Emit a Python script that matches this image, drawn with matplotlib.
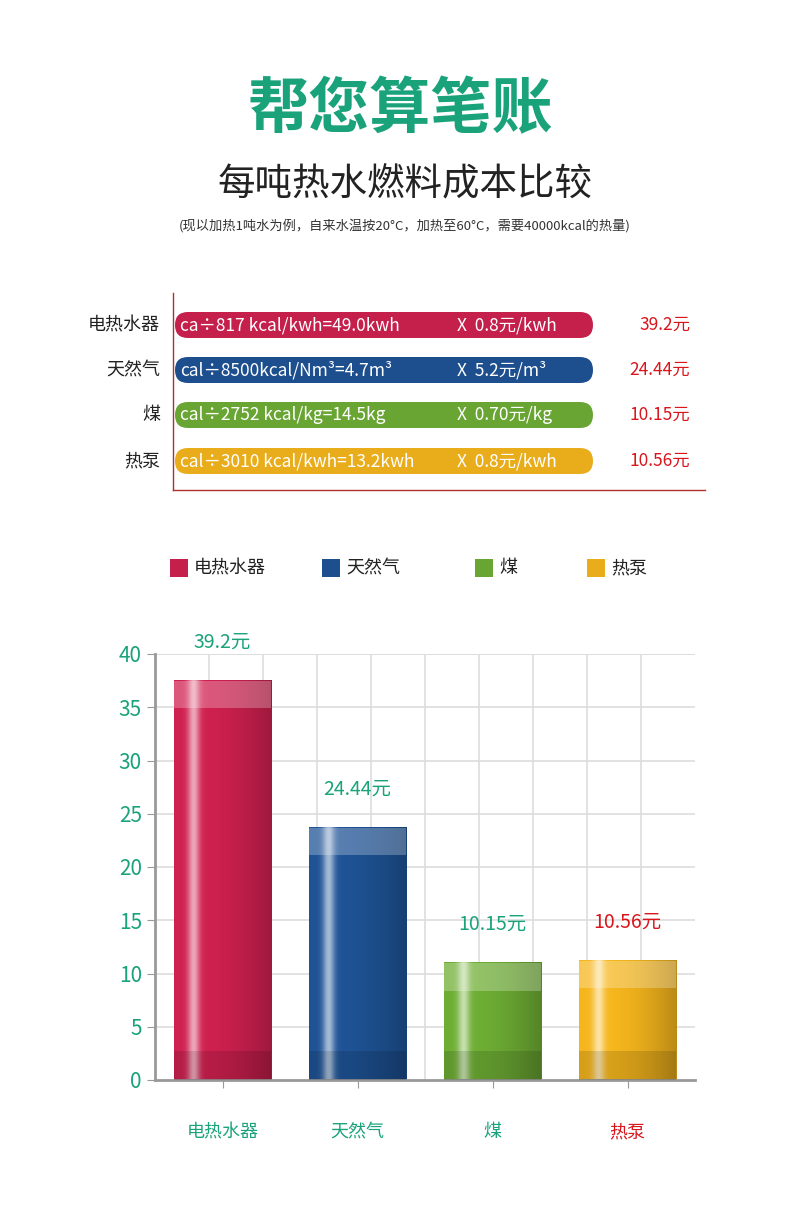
import matplotlib
matplotlib.use("Agg")
import matplotlib.pyplot as plt
import numpy as np
from matplotlib.patches import FancyBboxPatch, Rectangle
from matplotlib.colors import to_rgb

plt.rcParams["font.family"] = ["Noto Sans CJK SC", "DejaVu Sans"]

categories = ["电热水器", "天然气", "煤", "热泵"]
formulas = ["ca÷817 kcal/kwh=49.0kwh", "cal÷8500kcal/Nm³=4.7m³", "cal÷2752 kcal/kg=14.5kg", "cal÷3010 kcal/kwh=13.2kwh"]
prices = ["X  0.8元/kwh", "X  5.2元/m³", "X  0.70元/kg", "X  0.8元/kwh"]
costs = ["39.2元", "24.44元", "10.15元", "10.56元"]
bar_heights = [37.5, 23.7, 11.0, 11.2]
colors = ["#c51f4c", "#1d4f8e", "#69a532", "#e9ad1c"]
label_colors = ["#1aa37a", "#1aa37a", "#1aa37a", "#d9161c"]
yticks = [0, 5, 10, 15, 20, 25, 30, 35, 40]

W, H = 800, 1207
fig = plt.figure(figsize=(8, 12.07), dpi=100)
ov = fig.add_axes([0, 0, 1, 1])
ov.set_xlim(0, W); ov.set_ylim(H, 0); ov.axis("off")

green = "#1aa37a"
ov.text(400, 110, "帮您算笔账", color=green, fontsize=44, fontweight="bold", ha="center", va="center")
ov.text(405, 185, "每吨热水燃料成本比较", color="#222222", fontsize=27, ha="center", va="center")
ov.text(405, 226, "(现以加热1吨水为例，自来水温按20°C，加热至60°C，需要40000kcal的热量)", color="#333333", fontsize=9.5, ha="center", va="center")

# top table
ov.plot([173, 173], [293, 490], color="#b03030", lw=1)
ov.plot([173, 705], [490, 490], color="#b03030", lw=1)
rows_y = [325, 370, 415, 461]
for i, y in enumerate(rows_y):
    ov.add_patch(FancyBboxPatch((175, y - 13), 418, 26, boxstyle="round,pad=0,rounding_size=13",
                                fc=colors[i], ec="none"))
    ov.text(160, y, categories[i], ha="right", va="center", fontsize=13, color="#222222")
    ov.text(180, y, formulas[i], ha="left", va="center", fontsize=12.5, color="white")
    ov.text(457, y, prices[i], ha="left", va="center", fontsize=12.5, color="white")
    ov.text(690, y, costs[i], ha="right", va="center", fontsize=12.5, color="#d9161c")

# legend
leg_x = [170, 322, 475, 587]
for i, x in enumerate(leg_x):
    ov.add_patch(Rectangle((x, 559), 18, 18, fc=colors[i], ec="none"))
    ov.text(x + 24, 568, categories[i], ha="left", va="center", fontsize=13, color="#222222")

# bar chart
ax = fig.add_axes([155 / W, 1 - 1080 / H, 540 / W, (1080 - 654) / H])
ax.set_xlim(-0.5, 3.5)
ax.set_ylim(0, 40)
ax.set_yticks(yticks)
ax.set_yticklabels([str(t) for t in yticks], color=green, fontsize=15)
ax.set_xticks(range(4))
ax.set_xticklabels(categories, fontsize=13)
for lab, c in zip(ax.get_xticklabels(), label_colors):
    lab.set_color(c)
ax.tick_params(axis="x", length=6, color="#999999", pad=25)
ax.tick_params(axis="y", length=6, color="#999999")
for s in ["top", "right"]:
    ax.spines[s].set_visible(False)
for s in ["left", "bottom"]:
    ax.spines[s].set_color("#999999"); ax.spines[s].set_linewidth(2)
for xv in np.arange(-0.1, 3.5, 0.4):
    ax.axvline(xv, color="#dddddd", lw=1.2, zorder=0)
for yv in yticks[1:]:
    ax.axhline(yv, color="#dddddd", lw=1.2, zorder=0)
ax.plot([-0.5, 3.5], [40, 40], color="#dddddd", lw=1.2, zorder=0)

w = 0.72
prof_x = np.linspace(0, 1, 200)
factor = 0.75 + 0.1 * np.sin(prof_x * np.pi) - 0.25 * prof_x
hl = np.exp(-((prof_x - 0.2) / 0.06) ** 2) * 0.6
for i, h in enumerate(bar_heights):
    base = np.array(to_rgb(colors[i]))
    row = base[None, :] * (factor[:, None] + 0.3)
    row = np.clip(row, 0, 1)
    row = row * (1 - hl[:, None]) + hl[:, None]
    img = np.repeat(row[None, :, :], 2, axis=0)
    ax.imshow(img, extent=[i - w / 2, i + w / 2, 0, h], aspect="auto", zorder=2)
    ax.add_patch(Rectangle((i - w / 2, h - 2.6), w, 2.6, fc="white", alpha=0.25, ec="none", zorder=3))
    ax.add_patch(Rectangle((i - w / 2, 0), w, 2.7, fc="black", alpha=0.12, ec="none", zorder=3))
    ax.text(i, h + 3.6, costs[i], ha="center", va="center", fontsize=14, color=label_colors[i])
ax.set_xlim(-0.5, 3.5)
ax.set_ylim(0, 40)

fig.savefig("out.png", dpi=100, facecolor="white")
